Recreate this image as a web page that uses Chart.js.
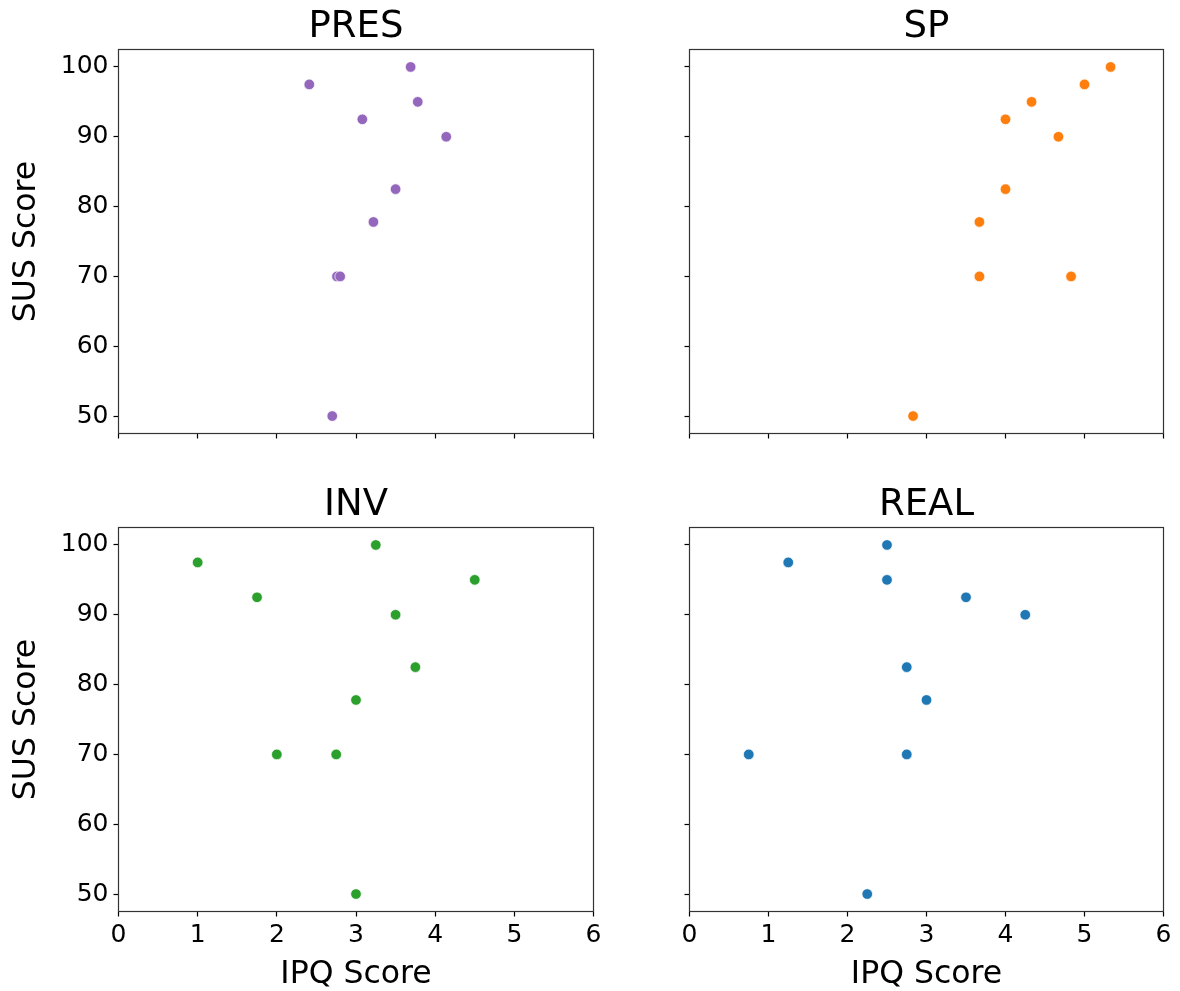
<!DOCTYPE html>
<html>
<head>
<meta charset="utf-8">
<script src="https://cdn.jsdelivr.net/npm/chart.js@4.4.0/dist/chart.umd.min.js"></script>
<style>
  body { margin: 0; background: #fff; width: 1180px; height: 991px; position: relative; overflow: hidden; }
  canvas { position: absolute; }
</style>
</head>
<body>
<canvas id="pres"></canvas>
<canvas id="sp"></canvas>
<canvas id="inv"></canvas>
<canvas id="real"></canvas>
<script>
// SUS score of each participant (same for every panel)
const sus_scores = [100, 97.5, 95, 92.5, 90, 82.5, 77.8, 70, 70, 50]

// IPQ sub-scores, one per participant, same order as sus_scores
const pres_scores = [3.69, 2.41, 3.78, 3.08, 4.14, 3.5, 3.22, 2.76, 2.8, 2.7]
const sp_scores = [5.33, 5.0, 4.33, 4.0, 4.67, 4.0, 3.67, 3.67, 4.83, 2.83]
const inv_scores = [3.25, 1.0, 4.5, 1.75, 3.5, 3.75, 3.0, 2.0, 2.75, 3.0]
const real_scores = [2.5, 1.25, 2.5, 3.5, 4.25, 2.75, 3.0, 0.75, 2.75, 2.25]

const x_ticks = [0, 1, 2, 3, 4, 5, 6]
const y_ticks = [50, 60, 70, 80, 90, 100]

const font = "'DejaVu Sans', sans-serif"

// draw all four spines like matplotlib
const framePlugin = {
  id: 'frame',
  afterDatasetsDraw(chart) {
    const a = chart.chartArea
    const ctx = chart.ctx
    ctx.save()
    ctx.strokeStyle = '#333'
    ctx.lineWidth = 1.2
    ctx.strokeRect(a.left, a.top, a.right - a.left, a.bottom - a.top)
    ctx.restore()
  }
}

// fixed axis size, no extra padding for overhanging labels
function fixSize(s, prop, size) {
  s[prop] = size
  s.paddingLeft = 0
  s.paddingRight = 0
  s.paddingTop = 0
  s.paddingBottom = 0
}

function scatterPanel(id, title, xs, color, box) {
  const canvas = document.getElementById(id)
  canvas.width = box.w
  canvas.height = box.h
  canvas.style.left = box.x + 'px'
  canvas.style.top = box.y + 'px'

  const points = []
  for (let i = 0; i < xs.length; i++) {
    points.push({ x: xs[i], y: sus_scores[i] })
  }

  new Chart(canvas, {
    type: 'scatter',
    data: {
      datasets: [{
        data: points,
        backgroundColor: color,
        borderColor: 'rgba(255,255,255,0.9)',
        borderWidth: 0.8,
        pointRadius: 5.3,
        pointHoverRadius: 5.3
      }]
    },
    options: {
      responsive: false,
      animation: false,
      devicePixelRatio: 1,
      layout: { padding: { left: 0, top: 0, bottom: 0, right: box.padR } },
      plugins: {
        legend: { display: false },
        tooltip: { enabled: false },
        title: {
          display: true,
          fullSize: false,
          text: title,
          color: '#000',
          font: { family: font, size: 37, weight: 'normal', lineHeight: 1.2 },
          padding: { top: box.titleTop, bottom: box.titleH - box.titleTop - 37 * 1.2 }
        }
      },
      scales: {
        x: {
          type: 'linear',
          min: 0,
          max: 6,
          afterBuildTicks: s => { s.ticks = x_ticks.map(v => ({ value: v })) },
          afterFit: s => fixSize(s, 'height', box.xh),
          grid: { drawOnChartArea: false, drawTicks: true, tickLength: 5, tickColor: '#000', tickWidth: 1.2 },
          border: { display: false },
          ticks: { display: box.xLabels, color: '#000', font: { family: font, size: 25 }, padding: 4, maxRotation: 0 },
          title: { display: box.xLabels, text: 'IPQ Score', color: '#000', font: { family: font, size: 31.5, lineHeight: 1.0 }, padding: { top: 0, bottom: 0 } }
        },
        y: {
          type: 'linear',
          min: 47.5,
          max: 102.5,
          afterBuildTicks: s => { s.ticks = y_ticks.map(v => ({ value: v })) },
          afterFit: s => fixSize(s, 'width', box.yw),
          grid: { drawOnChartArea: false, drawTicks: true, tickLength: 5, tickColor: '#000', tickWidth: 1.2 },
          border: { display: false },
          ticks: { display: box.yLabels, color: '#000', font: { family: font, size: 25 }, padding: 5 },
          title: { display: box.yLabels, text: 'SUS Score', color: '#000', font: { family: font, size: 31.5, lineHeight: 1.2 }, padding: { top: 8, bottom: 0 } }
        }
      }
    },
    plugins: [framePlugin]
  })
}

scatterPanel('pres', 'PRES', pres_scores, '#9467bd',
  { x: 0, y: 0, w: 600, h: 445, yw: 118.5, xh: 11.5, padR: 6.5, titleH: 49.5, titleTop: 5, xLabels: false, yLabels: true })
scatterPanel('sp', 'SP', sp_scores, '#ff7f0e',
  { x: 600, y: 0, w: 580, h: 445, yw: 89.5, xh: 11.5, padR: 16.5, titleH: 49.5, titleTop: 5, xLabels: false, yLabels: false })
scatterPanel('inv', 'INV', inv_scores, '#2ca02c',
  { x: 0, y: 470, w: 600, h: 521, yw: 118.5, xh: 79.5, padR: 6.5, titleH: 57.5, titleTop: 13, xLabels: true, yLabels: true })
scatterPanel('real', 'REAL', real_scores, '#1f77b4',
  { x: 600, y: 470, w: 580, h: 521, yw: 89.5, xh: 79.5, padR: 16.5, titleH: 57.5, titleTop: 13, xLabels: true, yLabels: false })
</script>
</body>
</html>
